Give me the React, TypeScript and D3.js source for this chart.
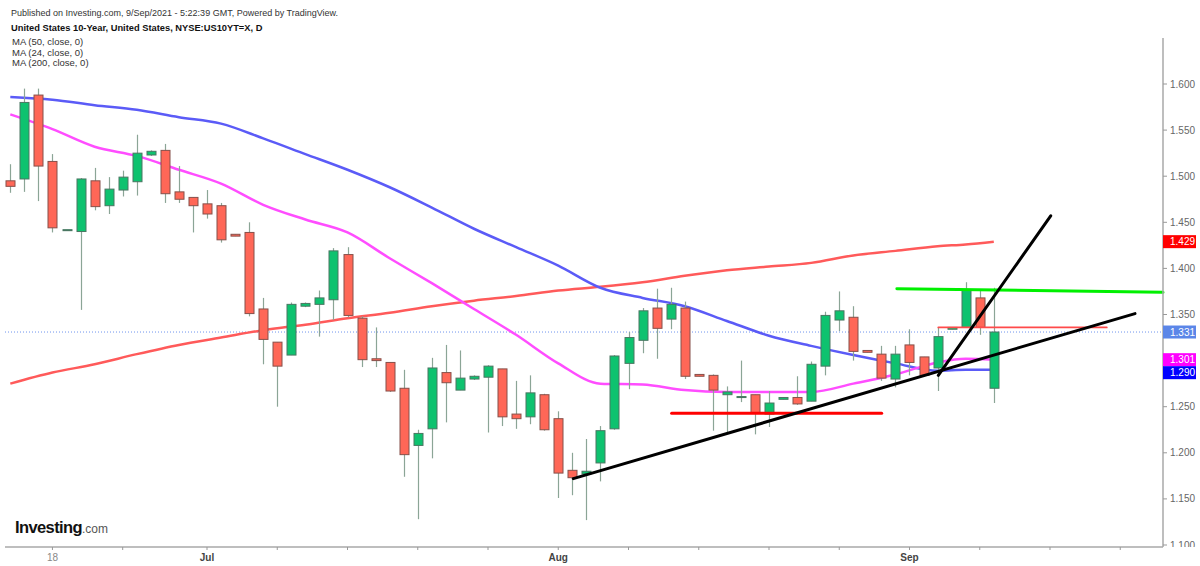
import { useEffect, useRef } from "react";
import * as d3 from "d3";

// Daily candles, US 10-year yield (one entry per trading day, left to right)
const opens = [
  1.495, 1.497, 1.588, 1.516, 1.442, 1.44, 1.495, 1.468, 1.485, 1.494, 1.523,
  1.528, 1.483, 1.477, 1.47, 1.468, 1.437, 1.439, 1.356, 1.32, 1.306, 1.359,
  1.361, 1.366, 1.415, 1.346, 1.302, 1.298, 1.27, 1.208, 1.226, 1.287, 1.268,
  1.28, 1.282, 1.291, 1.242, 1.239, 1.263, 1.237, 1.181, 1.177, 1.189, 1.226,
  1.297, 1.322, 1.357, 1.345, 1.357, 1.285, 1.284, 1.263, 1.261, 1.263, 1.242,
  1.258, 1.26, 1.256, 1.294, 1.344, 1.347, 1.311, 1.307, 1.28, 1.317, 1.304,
  1.292, 1.334, 1.336, 1.368, 1.27,
];
const highs = [
  1.513, 1.595, 1.595, 1.524, 1.442, 1.498, 1.509, 1.499, 1.506, 1.545, 1.528,
  1.535, 1.511, 1.477, 1.485, 1.471, 1.437, 1.45, 1.368, 1.32, 1.363, 1.363,
  1.376, 1.422, 1.423, 1.348, 1.336, 1.298, 1.29, 1.225, 1.303, 1.317, 1.311,
  1.284, 1.295, 1.291, 1.278, 1.284, 1.264, 1.245, 1.2, 1.215, 1.229, 1.306,
  1.331, 1.357, 1.378, 1.379, 1.364, 1.285, 1.285, 1.272, 1.3, 1.263, 1.267,
  1.26, 1.283, 1.299, 1.353, 1.375, 1.359, 1.311, 1.316, 1.316, 1.334, 1.304,
  1.336, 1.336, 1.385, 1.377, 1.379,
];
const lows = [
  1.482, 1.483, 1.473, 1.439, 1.442, 1.355, 1.463, 1.459, 1.478, 1.479, 1.522,
  1.471, 1.471, 1.439, 1.454, 1.428, 1.435, 1.348, 1.296, 1.25, 1.306, 1.358,
  1.326, 1.344, 1.347, 1.293, 1.293, 1.266, 1.174, 1.128, 1.194, 1.233, 1.268,
  1.279, 1.222, 1.229, 1.226, 1.231, 1.224, 1.151, 1.154, 1.127, 1.169, 1.225,
  1.269, 1.308, 1.302, 1.334, 1.28, 1.283, 1.224, 1.222, 1.255, 1.22, 1.228,
  1.258, 1.252, 1.256, 1.284, 1.332, 1.3, 1.309, 1.278, 1.271, 1.284, 1.284,
  1.267, 1.334, 1.336, 1.328, 1.254,
];
const closes = [
  1.489, 1.58, 1.511, 1.444, 1.442, 1.497, 1.467, 1.486, 1.499, 1.525, 1.527,
  1.481, 1.475, 1.468, 1.459, 1.431, 1.435, 1.351, 1.323, 1.294, 1.361, 1.362,
  1.368, 1.419, 1.349, 1.301, 1.3, 1.267, 1.198, 1.221, 1.292, 1.276, 1.281,
  1.283, 1.294, 1.239, 1.237, 1.265, 1.225, 1.178, 1.173, 1.18, 1.224, 1.305,
  1.325, 1.354, 1.335, 1.361, 1.283, 1.283, 1.268, 1.266, 1.261, 1.243, 1.254,
  1.26, 1.253, 1.296, 1.349, 1.354, 1.31, 1.309, 1.281, 1.307, 1.298, 1.284,
  1.326, 1.336, 1.377, 1.336, 1.331,
];

// Moving averages, read at these candle positions
const maIndex = [
  0, 3, 6, 9, 12, 15, 18, 21, 24, 27, 30, 33, 36, 39, 42, 45, 48, 51, 54, 57,
  60, 63, 66, 68, 70,
];
const ma50 = [
  1.586, 1.583, 1.577, 1.572, 1.564, 1.557, 1.541, 1.524, 1.507, 1.488, 1.466,
  1.443, 1.423, 1.403, 1.379, 1.368, 1.359, 1.343, 1.327, 1.316, 1.306, 1.297,
  1.289, 1.29, 1.29,
];
const ma24 = [
  1.567, 1.551, 1.532, 1.522, 1.507, 1.492, 1.469, 1.453, 1.439, 1.411, 1.384,
  1.356, 1.328, 1.297, 1.275, 1.274, 1.268, 1.266, 1.266, 1.266, 1.275, 1.285,
  1.298, 1.302, 1.301,
];
const ma200 = [
  1.275, 1.287, 1.296, 1.307, 1.317, 1.325, 1.333, 1.339, 1.346, 1.352, 1.359,
  1.365, 1.37, 1.376, 1.38, 1.385, 1.392, 1.398, 1.402, 1.406, 1.414, 1.419,
  1.424, 1.426, 1.429,
];

// Hand drawn lines: [candle position, yield]
const supportLine = [[40.07, 1.172], [80.05, 1.351]];
const steepLine = [[66.05, 1.284], [74.05, 1.457]];
const redLevel = [[47.07, 1.243], [62.02, 1.243]];
const greenLevel = [[63.1, 1.378], [82.04, 1.374]];
const thinRedLevel = [[66.05, 1.336], [78.04, 1.336]];

const yTicks = [1.1, 1.15, 1.2, 1.25, 1.3, 1.35, 1.4, 1.45, 1.5, 1.55, 1.6];
const xTickPos = [3, 8, 14, 19, 24, 29, 34, 39, 44, 49, 54, 59, 64, 69, 74, 79];
const xTickLabels = [
  { pos: 3, text: "18", bold: false },
  { pos: 14, text: "Jul", bold: true },
  { pos: 39, text: "Aug", bold: true },
  { pos: 64, text: "Sep", bold: true },
];

const FONT = "'Liberation Sans', Arial, sans-serif";

function renderChart(svgEl: SVGSVGElement) {
  const svg = d3.select(svgEl);
  svg.selectAll("*").remove();

  const axisX = 1163;
  const axisY = 547;

  const x = d3.scaleLinear().domain([0, 70]).range([10.3, 993.8]);
  const y = d3.scaleLinear().domain([1.1, 1.6]).range([545, 84]);

  svg.append("rect").attr("width", 1200).attr("height", 566).attr("fill", "#fff");

  svg
    .append("clipPath")
    .attr("id", "pane")
    .append("rect")
    .attr("x", 0)
    .attr("y", 0)
    .attr("width", 1200)
    .attr("height", axisY);

  // header
  const header = svg.append("g").style("font-family", FONT);
  header
    .append("text")
    .attr("x", 11)
    .attr("y", 16)
    .attr("fill", "#333")
    .style("font-size", "9px")
    .text("Published on Investing.com, 9/Sep/2021 - 5:22:39 GMT, Powered by TradingView.");
  header
    .append("text")
    .attr("x", 11)
    .attr("y", 30.5)
    .attr("fill", "#111")
    .style("font-size", "9.3px")
    .style("font-weight", "bold")
    .text("United States 10-Year, United States, NYSE:US10YT=X, D");
  ["MA (50, close, 0)", "MA (24, close, 0)", "MA (200, close, 0)"].forEach((t, i) => {
    header
      .append("text")
      .attr("x", 12)
      .attr("y", 45 + i * 10.5)
      .attr("fill", "#333")
      .style("font-size", "9.5px")
      .text(t);
  });

  // last price dotted line
  const last = closes[closes.length - 1];
  svg
    .append("line")
    .attr("x1", 5)
    .attr("x2", axisX)
    .attr("y1", y(last))
    .attr("y2", y(last))
    .attr("stroke", "#6f93ee")
    .attr("stroke-width", 1)
    .attr("stroke-dasharray", "1,2");

  // moving averages
  const maLine = d3
    .line<number>()
    .x((_, i) => x(maIndex[i]))
    .y((d) => y(d))
    .curve(d3.curveMonotoneX);
  const maSeries: [number[], string][] = [
    [ma200, "#ff5a5a"],
    [ma50, "#5b5bf7"],
    [ma24, "#ff4dff"],
  ];
  maSeries.forEach(([vals, color]) => {
    svg
      .append("path")
      .datum(vals)
      .attr("fill", "none")
      .attr("stroke", color)
      .attr("stroke-width", 2.5)
      .attr("d", maLine);
  });

  // candles
  const bodyW = 9;
  const candles = svg.append("g");
  opens.forEach((o, i) => {
    const c = closes[i];
    const up = c >= o;
    const cx = Math.round(x(i)) + 0.5;
    candles
      .append("line")
      .attr("x1", cx)
      .attr("x2", cx)
      .attr("y1", y(highs[i]))
      .attr("y2", y(lows[i]))
      .attr("stroke", "#8ba596")
      .attr("stroke-width", 1.2);
    const top = y(Math.max(o, c));
    const h = Math.max(Math.abs(y(o) - y(c)), 1);
    candles
      .append("rect")
      .attr("x", cx - bodyW / 2)
      .attr("y", top)
      .attr("width", bodyW)
      .attr("height", h)
      .attr("fill", up ? "#0ec26f" : "#ff6757")
      .attr("stroke", up ? "#4a7662" : "#86504a")
      .attr("stroke-width", 1);
  });

  // drawn lines
  const seg = d3
    .line<number[]>()
    .x((d) => x(d[0]))
    .y((d) => y(d[1]));
  const drawn: [number[][], string, number][] = [
    [redLevel, "#ff0000", 3],
    [thinRedLevel, "#ff4a4a", 1.8],
    [greenLevel, "#00f000", 3],
    [supportLine, "#000", 3],
    [steepLine, "#000", 3],
  ];
  drawn.forEach(([pts, color, w]) => {
    svg
      .append("path")
      .datum(pts)
      .attr("fill", "none")
      .attr("stroke", color)
      .attr("stroke-width", w)
      .attr("stroke-linecap", "round")
      .attr("d", seg);
  });

  // axes lines
  svg
    .append("line")
    .attr("x1", axisX)
    .attr("x2", axisX)
    .attr("y1", 38)
    .attr("y2", axisY)
    .attr("stroke", "#a8a8a8")
    .attr("stroke-width", 1.5);
  svg
    .append("line")
    .attr("x1", 5)
    .attr("x2", axisX)
    .attr("y1", axisY)
    .attr("y2", axisY)
    .attr("stroke", "#a8a8a8")
    .attr("stroke-width", 1.5);

  // right axis ticks
  const yAxis = svg.append("g").attr("clip-path", "url(#pane)").style("font-family", FONT);
  yTicks.forEach((t) => {
    yAxis
      .append("line")
      .attr("x1", axisX)
      .attr("x2", axisX + 4)
      .attr("y1", y(t))
      .attr("y2", y(t))
      .attr("stroke", "#999");
    yAxis
      .append("text")
      .attr("x", axisX + 7)
      .attr("y", y(t) + 3.5)
      .attr("fill", "#666")
      .style("font-size", "10px")
      .text(d3.format(".3f")(t));
  });

  // bottom axis ticks
  const xAxis = svg.append("g").style("font-family", FONT);
  xTickPos.forEach((p) => {
    xAxis
      .append("line")
      .attr("x1", x(p))
      .attr("x2", x(p))
      .attr("y1", axisY)
      .attr("y2", axisY + 3)
      .attr("stroke", "#999");
  });
  xTickLabels.forEach((l) => {
    xAxis
      .append("text")
      .attr("x", x(l.pos))
      .attr("y", 561)
      .attr("text-anchor", "middle")
      .attr("fill", l.bold ? "#444" : "#888")
      .style("font-size", "10px")
      .style("font-weight", l.bold ? "bold" : "normal")
      .text(l.text);
  });

  // price labels on the right axis
  const labels = [
    { v: ma200[ma200.length - 1], bg: "#ff0000" },
    { v: last, bg: "#5b86e8" },
    { v: ma24[ma24.length - 1], bg: "#ff00ff" },
    { v: ma50[ma50.length - 1], bg: "#0000ff" },
  ]
    .map((d) => ({ ...d, cy: y(d.v) }))
    .sort((a, b) => a.cy - b.cy);
  for (let i = 1; i < labels.length; i++) {
    if (labels[i].cy < labels[i - 1].cy + 13) labels[i].cy = labels[i - 1].cy + 13;
  }
  labels.forEach((l) => {
    svg
      .append("rect")
      .attr("x", axisX)
      .attr("y", l.cy - 6.5)
      .attr("width", 33)
      .attr("height", 13)
      .attr("fill", l.bg);
    svg
      .append("text")
      .attr("x", axisX + 7)
      .attr("y", l.cy + 3.5)
      .attr("fill", "#fff")
      .style("font-family", FONT)
      .style("font-size", "10px")
      .text(d3.format(".3f")(l.v));
  });

  // logo
  const logo = svg.append("text").attr("x", 15).attr("y", 533).style("font-family", FONT);
  logo
    .append("tspan")
    .attr("fill", "#111")
    .style("font-size", "16.5px")
    .style("font-weight", "bold")
    .style("letter-spacing", "-0.6px")
    .text("Investing");
  logo
    .append("tspan")
    .attr("fill", "#555")
    .style("font-size", "12px")
    .text(".com");
}

export default function App() {
  const svgRef = useRef<SVGSVGElement>(null);

  useEffect(() => {
    if (svgRef.current) renderChart(svgRef.current);
  }, []);

  return (
    <svg
      ref={svgRef}
      width={1200}
      height={566}
      style={{ position: "absolute", left: 0, top: 0 }}
    />
  );
}
